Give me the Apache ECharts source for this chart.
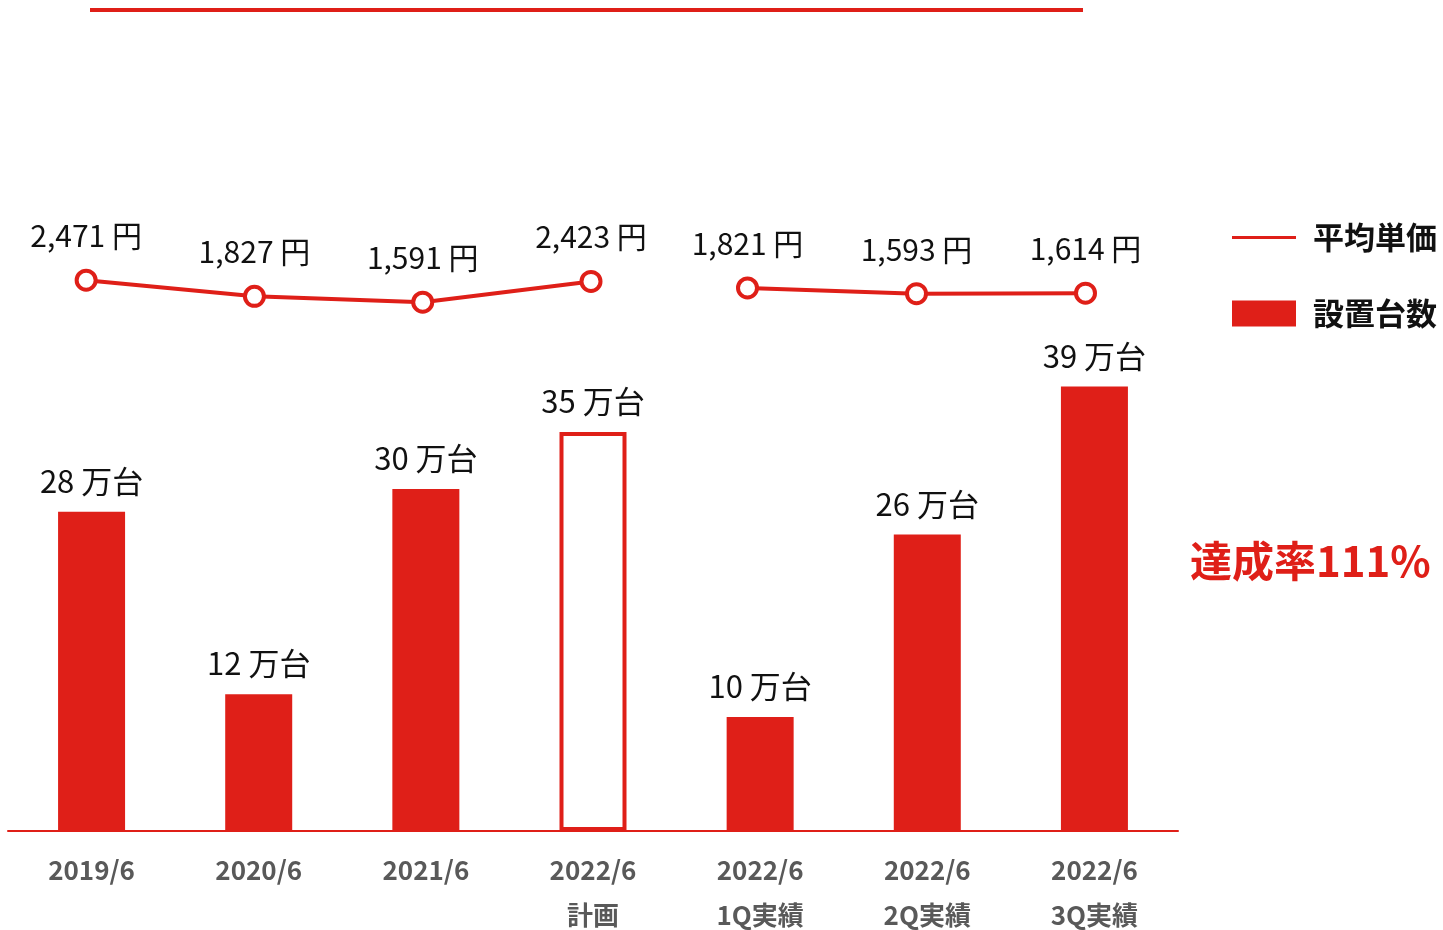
<!DOCTYPE html>
<html>
<head>
<meta charset="utf-8">
<script src="https://cdn.jsdelivr.net/npm/echarts@6/dist/echarts.min.js"></script>
<style>
  html, body { margin: 0; padding: 0; background: #fff; overflow: hidden; }
  #main { width: 1443px; height: 930px; }
</style>
</head>
<body>
<div id="main"></div>
<script>
// データ
var categories = ['2019/6', '2020/6', '2021/6', '2022/6\n計画', '2022/6\n1Q実績', '2022/6\n2Q実績', '2022/6\n3Q実績'];
var units = [28, 12, 30, 35, 10, 26, 39];           // 設置台数（万台）
var planIndex = 3;                                   // 計画は枠だけ
var pricesBefore = [2471, 1827, 1591, 2423, '-', '-', '-'];
var pricesAfter = ['-', '-', '-', '-', 1821, 1593, 1614];

var RED = '#df1f18';
var FONT = '"Noto Sans CJK JP", "Noto Sans", sans-serif';

var chart = echarts.init(document.getElementById('main'));

var barData = units.map(function(v, i) {
    if (i === planIndex) {
        return {
            value: v,
            itemStyle: { color: 'rgba(255,255,255,0)', borderColor: RED, borderWidth: 4 }
        };
    }
    return v;
});

function priceLabel(p) {
    return echarts.format.addCommas(p.value) + ' 円';
}

var lineCommon = {
    type: 'line',
    name: '平均単価',
    symbol: 'circle',
    symbolSize: 19,
    lineStyle: { color: RED, width: 4 },
    itemStyle: { color: '#fff', borderColor: RED, borderWidth: 4 },
    label: {
        show: true,
        position: 'top',
        distance: 18,
        color: '#111',
        fontFamily: FONT,
        fontSize: 30,
        formatter: priceLabel
    },
    z: 5
};

// 線グラフの点は棒の中心から少しずれているので別グリッドに置く
var hiddenX = { type: 'category', data: categories, show: false };

var option = {
    animation: false,
    textStyle: { fontFamily: FONT },
    grid: [
        { left: 8, width: 1170, top: 147, height: 684, outerBoundsMode: 'none' },
        { left: 2, width: 1178, top: 147, height: 684, outerBoundsMode: 'none' },
        { left: -13, width: 1183, top: 147, height: 684, outerBoundsMode: 'none' }
    ],
    legend: {
        orient: 'vertical',
        left: 1232,
        top: 222,
        padding: 0,
        itemWidth: 64,
        itemHeight: 26,
        itemGap: 45,
        textStyle: { fontSize: 31, fontWeight: 'bold', color: '#111', lineHeight: 31, padding: [0, 0, 0, 12] },
        data: [
            { name: '平均単価', icon: 'path://M0,0H64V3H0Z', itemStyle: { color: RED, borderWidth: 0 } },
            { name: '設置台数', icon: 'rect' }
        ]
    },
    xAxis: [
        {
            type: 'category',
            gridIndex: 0,
            data: categories,
            axisLine: { lineStyle: { color: RED, width: 2 } },
            axisTick: { show: false },
            axisLabel: {
                color: '#595959',
                fontSize: 26,
                fontWeight: 'bold',
                lineHeight: 45,
                margin: 17,
                interval: 0
            }
        },
        echarts.util.merge({ gridIndex: 1 }, hiddenX),
        echarts.util.merge({ gridIndex: 2 }, hiddenX)
    ],
    yAxis: [
        { type: 'value', gridIndex: 0, min: 0, max: 60, show: false },
        { type: 'value', gridIndex: 1, min: -19560, max: 7800, show: false },
        { type: 'value', gridIndex: 2, min: -19900, max: 7460, show: false }
    ],
    series: [
        {
            type: 'bar',
            name: '設置台数',
            data: barData,
            barWidth: 67,
            itemStyle: { color: RED },
            label: {
                show: true,
                position: 'top',
                distance: 15,
                color: '#111',
                fontSize: 31,
                formatter: '{c} 万台'
            }
        },
        echarts.util.merge({ xAxisIndex: 1, yAxisIndex: 1, data: pricesBefore }, lineCommon),
        echarts.util.merge({ xAxisIndex: 2, yAxisIndex: 2, data: pricesAfter }, lineCommon)
    ],
    graphic: [
        {
            type: 'line',
            shape: { x1: 90, y1: 10, x2: 1083, y2: 10 },
            style: { stroke: RED, lineWidth: 4 }
        },
        {
            type: 'text',
            left: 1190,
            top: 540,
            style: {
                text: '達成率111%',
                fill: RED,
                font: 'bold 42px "Noto Sans CJK JP", sans-serif'
            }
        }
    ]
};

chart.setOption(option);
</script>
</body>
</html>
